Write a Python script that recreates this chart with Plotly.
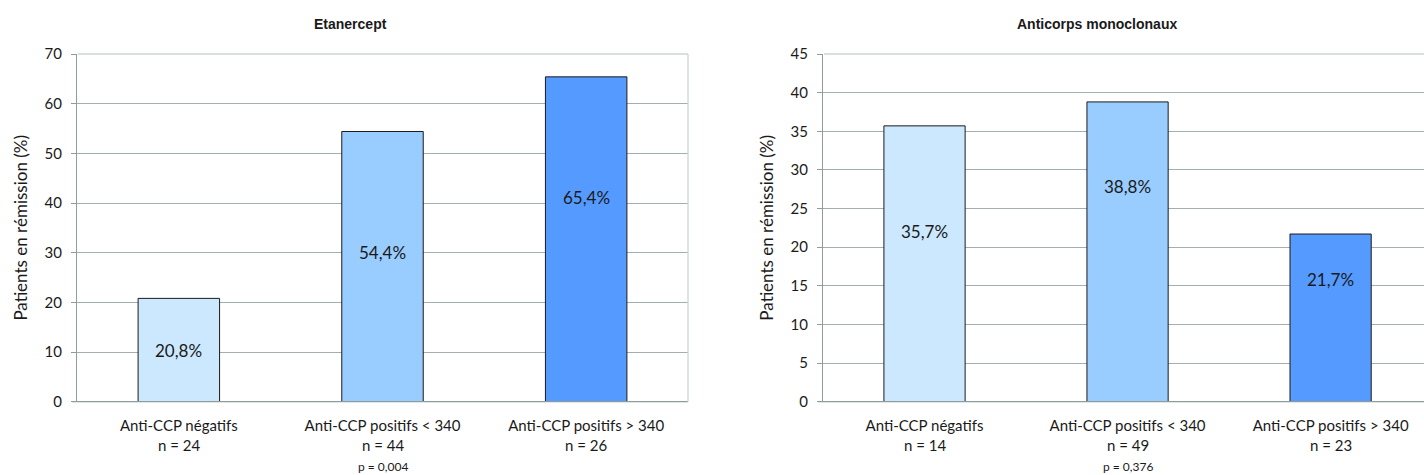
import plotly.graph_objects as go

# ---- data ----
categories = ["Anti-CCP négatifs", "Anti-CCP positifs < 340", "Anti-CCP positifs > 340"]
etanercept_n = [24, 44, 26]
etanercept_values = [20.8, 54.4, 65.4]
mono_n = [14, 49, 23]
mono_values = [35.7, 38.8, 21.7]
p_etanercept = "p = 0,004"
p_mono = "p = 0,376"
titles = ["Etanercept", "Anticorps monoclonaux"]
y_title = "Patients en rémission (%)"
left_ticks = [0, 10, 20, 30, 40, 50, 60, 70]
right_ticks = [0, 5, 10, 15, 20, 25, 30, 35, 40, 45]

# label placement (style, in data units of each axis)
left_label_y = [10.4, 30.1, 41.1]
right_label_y = [22.0, 27.9, 15.8]

bar_colors = ["#CCE8FF", "#99CCFF", "#559BFF"]
grid_color = "#A3AEAE"
axis_color = "#8F9C9C"
border_color = "#CDD5D5"
font_main = "Lato, Open Sans, sans-serif"
font_title = "Liberation Sans Narrow, Liberation Sans, Arial, sans-serif"
txt_color = "#1a1a1a"

W, H = 1424, 475
def px(x): return x / W
def py(y): return 1 - y / H

y_dom = [py(401.7), py(54)]

fig = go.Figure()

def fmt(v):
    return f"{v:.1f}".replace(".", ",") + "%"

def add_chart(values, n_list, xa, ya, label_y):
    fig.add_trace(go.Bar(
        x=list(range(len(categories))), y=values,
        marker=dict(color=bar_colors, line=dict(color="#1a1a1a", width=1)),
        width=0.4, xaxis=xa, yaxis=ya, showlegend=False, hoverinfo="skip"))
    for i, v in enumerate(values):
        fig.add_annotation(x=i, y=label_y[i], xref=xa, yref=ya, text=fmt(v),
                           showarrow=False, xanchor="center", yanchor="middle",
                           font=dict(family=font_main, size=17, color=txt_color))
    for i, n in enumerate(n_list):
        fig.add_annotation(x=i, y=py(445), xref=xa, yref="paper", text=f"n = {n}",
                           showarrow=False, xanchor="center", yanchor="middle",
                           font=dict(family=font_main, size=15, color=txt_color))

add_chart(etanercept_values, etanercept_n, "x", "y", left_label_y)
add_chart(mono_values, mono_n, "x2", "y2", right_label_y)

xcommon = dict(showgrid=False, zeroline=False, showline=False, ticks="",
               tickfont=dict(family=font_main, size=15, color=txt_color),
               tickvals=[0, 1, 2], ticktext=categories, ticklabelstandoff=13,
               fixedrange=True, automargin=False)
ycommon = dict(showgrid=True, gridcolor=grid_color, gridwidth=1, zeroline=False,
               showline=True, linecolor=axis_color, linewidth=1.3,
               ticks="outside", ticklen=5, tickcolor=axis_color, tickwidth=1.3,
               ticklabelstandoff=6,
               tickfont=dict(family=font_main, size=15, color=txt_color),
               title=dict(text=y_title, font=dict(family=font_main, size=17, color=txt_color), standoff=12),
               domain=y_dom, fixedrange=True, automargin=False)

fig.update_layout(
    width=W, height=H, margin=dict(l=0, r=0, t=0, b=0, autoexpand=False),
    plot_bgcolor="white", paper_bgcolor="white", bargap=0.6,
    xaxis=dict(domain=[px(77), px(688)], range=[-0.5, 2.5], anchor="y", **xcommon),
    yaxis=dict(range=[0, 70], tickvals=left_ticks, anchor="x", **ycommon),
    xaxis2=dict(domain=[px(823), 1], range=[-0.5, 2.46], anchor="y2", **xcommon),
    yaxis2=dict(range=[0, 45], tickvals=right_ticks, anchor="x2", **ycommon),
)

# bottom axis lines, top light gridlines, right border of left chart
for x0, x1 in [(px(72), px(688)), (px(818), 1)]:
    fig.add_shape(type="line", xref="paper", yref="paper", x0=x0, x1=x1,
                  y0=y_dom[0], y1=y_dom[0], line=dict(color=axis_color, width=1.3))
fig.add_shape(type="line", xref="paper", yref="paper", x0=px(78), x1=px(688),
              y0=y_dom[1], y1=y_dom[1], line=dict(color=border_color, width=1.3))
fig.add_shape(type="line", xref="paper", yref="paper", x0=px(824), x1=1,
              y0=y_dom[1], y1=y_dom[1], line=dict(color=border_color, width=1.3))
fig.add_shape(type="line", xref="paper", yref="paper", x0=px(688), x1=px(688),
              y0=y_dom[0], y1=y_dom[1], line=dict(color=border_color, width=1.3))

# titles
fig.add_annotation(x=px(350), y=py(24), xref="paper", yref="paper", text="<b>" + titles[0] + "</b>",
                   showarrow=False, xanchor="center", yanchor="middle",
                   font=dict(family=font_title, size=14, color=txt_color))
fig.add_annotation(x=px(1097), y=py(24), xref="paper", yref="paper", text="<b>" + titles[1] + "</b>",
                   showarrow=False, xanchor="center", yanchor="middle",
                   font=dict(family=font_title, size=14, color=txt_color))

# p-values
fig.add_annotation(x=1, y=py(466), xref="x", yref="paper", text=p_etanercept,
                   showarrow=False, xanchor="center", yanchor="middle",
                   font=dict(family=font_main, size=12, color=txt_color))
fig.add_annotation(x=1, y=py(466), xref="x2", yref="paper", text=p_mono,
                   showarrow=False, xanchor="center", yanchor="middle",
                   font=dict(family=font_main, size=12, color=txt_color))

fig.write_html("out.html", config={"displayModeBar": False},
               post_script="document.body.style.margin='0';document.body.style.overflow='hidden';")
